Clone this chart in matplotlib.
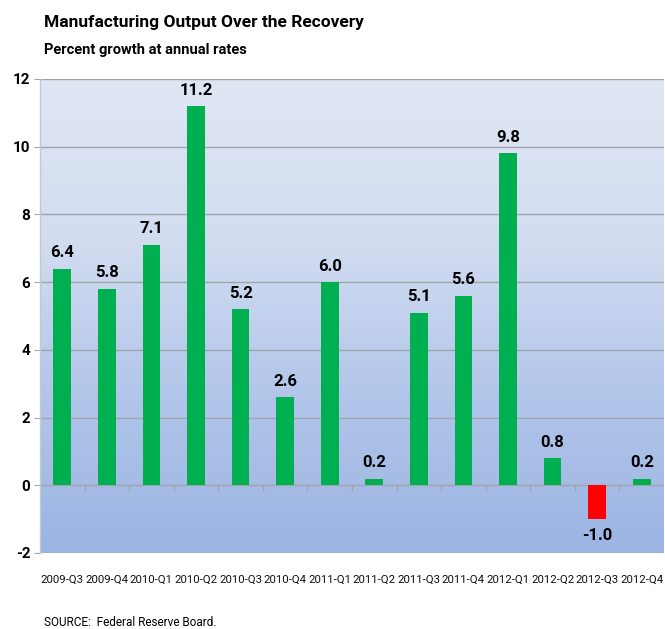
import numpy as np
import matplotlib
matplotlib.use("Agg")
import matplotlib.pyplot as plt
from matplotlib.colors import LinearSegmentedColormap

categories = ["2009-Q3", "2009-Q4", "2010-Q1", "2010-Q2", "2010-Q3", "2010-Q4", "2011-Q1",
              "2011-Q2", "2011-Q3", "2011-Q4", "2012-Q1", "2012-Q2", "2012-Q3", "2012-Q4"]
values = [6.4, 5.8, 7.1, 11.2, 5.2, 2.6, 6.0, 0.2, 5.1, 5.6, 9.8, 0.8, -1.0, 0.2]
yticks = [-2, 0, 2, 4, 6, 8, 10, 12]

plt.rcParams['font.family'] = ['Roboto', 'DejaVu Sans']

fig = plt.figure(figsize=(6.65, 6.29), dpi=100)
ax = fig.add_axes([40/665, 76/629, 624/665, 474/629])

x = np.arange(len(categories))
n = len(categories)

# gradient background (light at top, darker blue at bottom)
grad = np.linspace(0, 1, 256).reshape(-1, 1)
cmap = LinearSegmentedColormap.from_list("bg", ["#dfe6f4", "#d3ddf0", "#b2c6ea", "#9bb4e2"])
ax.imshow(grad, aspect="auto", cmap=cmap, extent=[-0.5, n - 0.5, -2, 12],
          origin="upper", zorder=0)
ax.set_xlim(-0.5, n - 0.5)
ax.set_ylim(-2, 12)

for y in yticks:
    ax.axhline(y, color="#a0a4ab", lw=1.0, zorder=1)

colors = ["#ff0000" if v < 0 else "#00b050" for v in values]
ax.bar(x, values, width=0.4, color=colors, zorder=3)

# category boundary tick marks on the zero line
for b in np.arange(0.5, n - 0.5, 1.0):
    ax.plot([b, b], [0, -0.15], color="#a0a4ab", lw=1.0, zorder=2)

for xi, v in zip(x, values):
    if v >= 0:
        ax.text(xi, v + 0.25, f"{v:.1f}", ha="center", va="bottom", fontsize=12, fontweight="bold")
    else:
        ax.text(xi, v - 0.25, f"{v:.1f}", ha="center", va="top", fontsize=12, fontweight="bold")

for s in ax.spines.values():
    s.set_visible(False)
ax.plot([-0.5, -0.5], [-2, 12], color="#c4c8cf", lw=1.0, zorder=2, clip_on=False)

ax.set_yticks(yticks)
ax.set_yticklabels([str(t) for t in yticks], fontsize=11, fontweight="bold")
ax.tick_params(axis="y", length=4, color="#a0a4ab", pad=3)
ax.set_xticks(x)
ax.set_xticklabels(categories, fontsize=8.2, color="#111111")
ax.tick_params(axis="x", length=0, pad=16)

fig.text(44/665, 1 - 22/629, "Manufacturing Output Over the Recovery", fontsize=12.5,
         fontweight="bold", va="center", ha="left")
fig.text(44/665, 1 - 50/629, "Percent growth at annual rates", fontsize=10.5,
         fontweight="bold", va="center", ha="left")
fig.text(44/665, 1 - 622/629, "SOURCE:  Federal Reserve Board.", fontsize=8.5,
         va="center", ha="left")

fig.savefig("out.png", dpi=100)
